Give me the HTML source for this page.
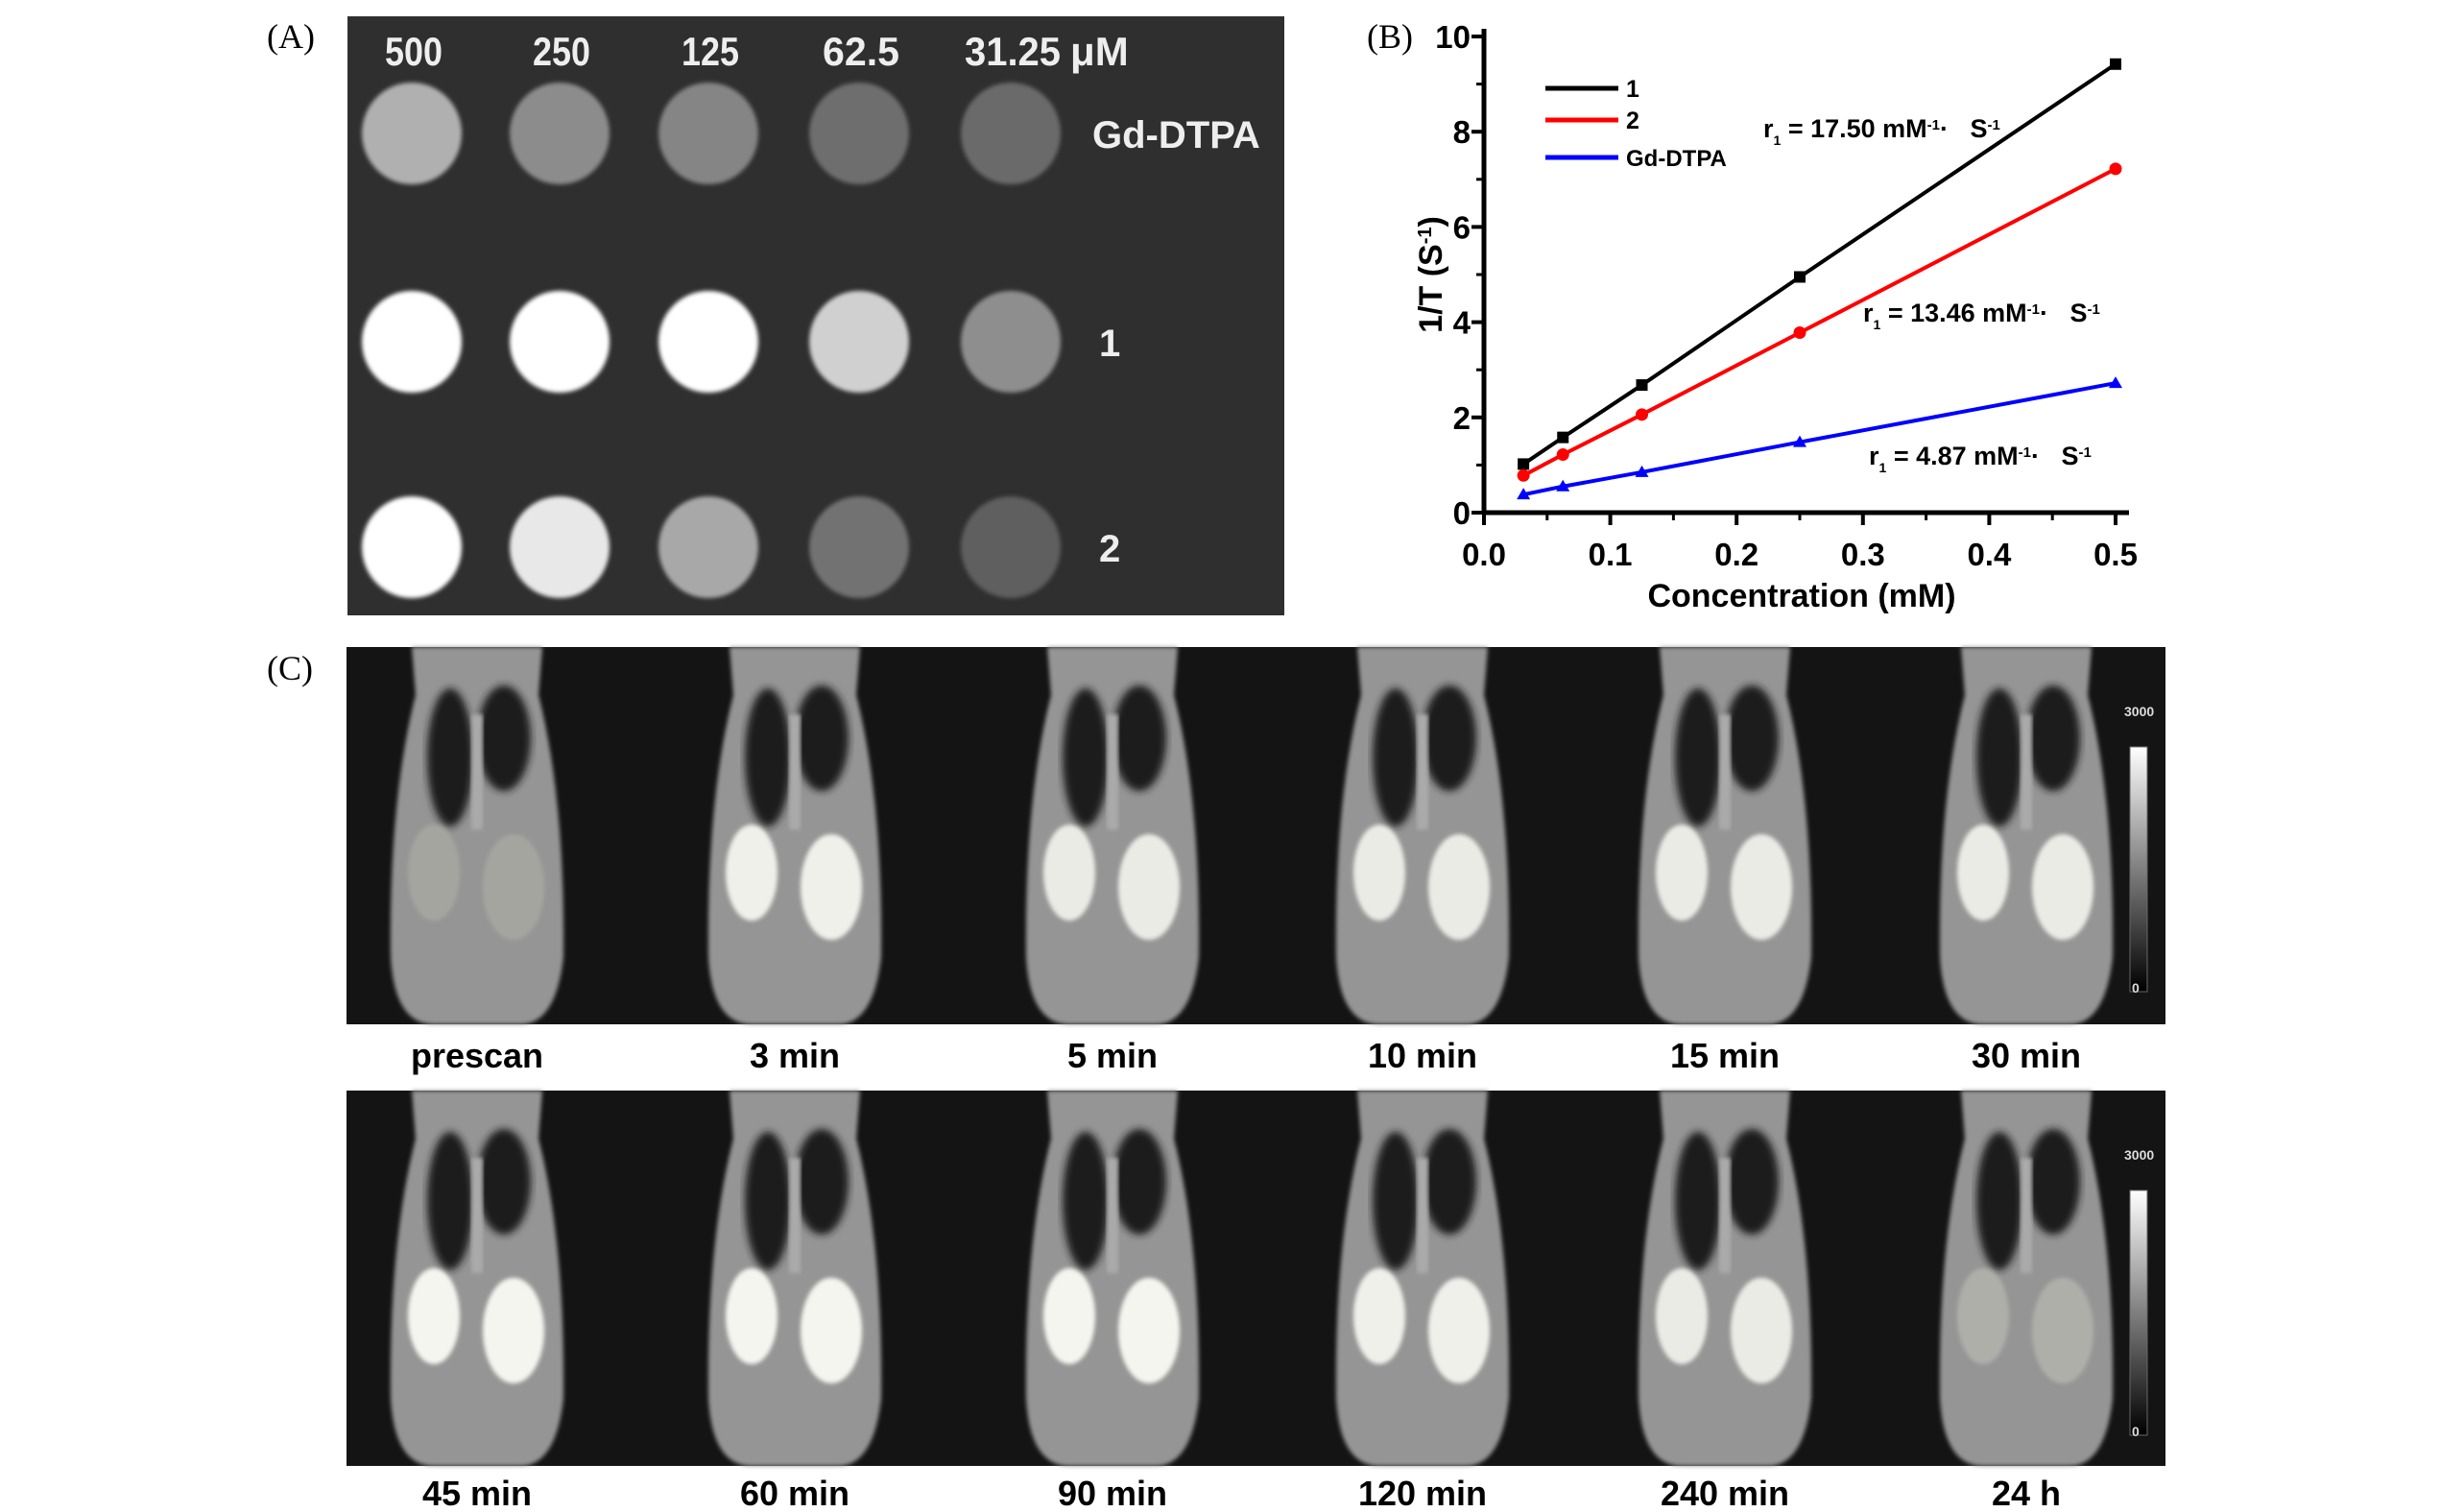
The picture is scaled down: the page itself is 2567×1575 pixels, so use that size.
<!DOCTYPE html>
<html><head><meta charset="utf-8"><style>
html,body{margin:0;padding:0;background:#fff}
body{width:2567px;height:1575px;position:relative;overflow:hidden;font-family:"Liberation Sans",sans-serif}
svg{position:absolute;left:0;top:0}
</style></head><body>
<svg width="2567" height="1575" viewBox="0 0 2567 1575" xmlns="http://www.w3.org/2000/svg">
<defs>
<filter id="blur2"><feGaussianBlur stdDeviation="2"/></filter>
<filter id="blur4"><feGaussianBlur stdDeviation="4"/></filter>
</defs>
<g font-family="Liberation Serif, serif" font-size="36" fill="#000">
<text x="278" y="50">(A)</text>
<text x="1424" y="50">(B)</text>
<text x="278" y="708">(C)</text>
</g>
<g id="panelA">
<rect x="362" y="17" width="976" height="624" fill="#2f2f2f"/>
</g>
<g id="chartB"></g>
<g id="panelC"></g>
</svg>
<script>
const NS='http://www.w3.org/2000/svg';
function mk(tag,attrs,parent,txt){const e=document.createElementNS(NS,tag);for(const k in attrs)e.setAttribute(k,attrs[k]);if(txt!==undefined)e.textContent=txt;parent.appendChild(e);return e;}

// ---------- Panel A ----------
const concLabels=['500','250','125','62.5','31.25'];
const rowLabels=['Gd-DTPA','1','2'];
const grayRows=[[176,140,133,110,106],[255,255,255,208,142],[255,232,168,114,94]];
const pa=document.getElementById('panelA');
const colX=[429,583,738,895,1053], rowY=[139,356,570];
concLabels.forEach((c,i)=>{const t=mk('text',{x:colX[i]+2,y:68,'text-anchor':'middle','font-size':42,'font-weight':'bold',fill:'#eee',textLength:c.length*20,lengthAdjust:'spacingAndGlyphs'},pa,c);

});
{const t=mk('text',{x:1115,y:68,'font-size':42,'font-weight':'bold',fill:'#eee'},pa,'μM');}
grayRows.forEach((row,r)=>{row.forEach((g,i)=>{const c=mk('ellipse',{cx:colX[i],cy:rowY[r],rx:52,ry:53,fill:`rgb(${g},${g},${g})`,filter:'url(#blur2)'},pa);

});
const t=mk('text',{x:r===0?1138:1145,y:rowY[r]+15,'font-size':40,'font-weight':'bold',fill:'#eee'},pa,rowLabels[r]);

});

// ---------- Panel B ----------
const xValues=[0.03125,0.0625,0.125,0.25,0.5];
const series1=[1.02,1.58,2.68,4.95,9.42];
const series2=[0.78,1.22,2.06,3.78,7.22];
const seriesGd=[0.38,0.55,0.85,1.48,2.72];
const xTicks=['0.0','0.1','0.2','0.3','0.4','0.5'];
const yTicks=['0','2','4','6','8','10'];
const legendNames=['1','2','Gd-DTPA'];
const X0=1546,X1=2204,Y0=534,Y1=38;
const sx=v=>X0+(X1-X0)*v/0.5, sy=v=>Y0-(Y0-Y1)*v/10;
const cb=document.getElementById('chartB');
{const a=mk('line',{x1:X0,y1:Y1-8,x2:X0,y2:Y0,stroke:'#000','stroke-width':5},cb);
const b=mk('line',{x1:X0-2,y1:Y0,x2:2218,y2:Y0,stroke:'#000','stroke-width':5},cb);}
xTicks.forEach(t=>{const v=parseFloat(t);const x=sx(v);
mk('line',{x1:x,y1:Y0,x2:x,y2:Y0+13,stroke:'#000','stroke-width':4},cb);
if(v<0.5)mk('line',{x1:sx(v+0.05),y1:Y0,x2:sx(v+0.05),y2:Y0+8,stroke:'#000','stroke-width':3},cb);
const e=mk('text',{x:x,y:Y0+55,'text-anchor':'middle','font-size':33,'font-weight':'bold'},cb,t);

});
yTicks.forEach(t=>{const v=parseFloat(t);const y=sy(v);
mk('line',{x1:X0-13,y1:y,x2:X0,y2:y,stroke:'#000','stroke-width':4},cb);
if(v<10)mk('line',{x1:X0-8,y1:sy(v+1),x2:X0,y2:sy(v+1),stroke:'#000','stroke-width':3},cb);
const e=mk('text',{x:X0-14,y:y+12,'text-anchor':'end','font-size':33,'font-weight':'bold'},cb,t);

});
{const e=mk('text',{x:1877,y:632,'text-anchor':'middle','font-size':34,'font-weight':'bold'},cb,'Concentration (mM)');
const g=mk('text',{transform:'translate(1502,286) rotate(-90)','text-anchor':'middle','font-size':34,'font-weight':'bold'},cb);
g.innerHTML='1/T (S<tspan baseline-shift="super" font-size="20">-1</tspan>)';}
const allSeries=[series1,series2,seriesGd], colors=['#000','#f00','#00f'], markers=['square','circle','triangle'];
allSeries.forEach((s,k)=>{const pts=s.map((v,i)=>sx(xValues[i])+','+sy(v)).join(' ');
const l=mk('polyline',{points:pts,fill:'none',stroke:colors[k],'stroke-width':4},cb);


s.forEach((v,i)=>{const x=sx(xValues[i]),y=sy(v);let m;
if(markers[k]==='square')m=mk('rect',{x:x-6,y:y-6,width:12,height:12,fill:colors[k]},cb);
else if(markers[k]==='circle')m=mk('circle',{cx:x,cy:y,r:6.5,fill:colors[k]},cb);
else m=mk('polygon',{points:`${x},${y-7} ${x-7},${y+5} ${x+7},${y+5}`,fill:colors[k]},cb);

});});
const legY=[92,125,164];
legendNames.forEach((n,k)=>{mk('line',{x1:1610,y1:legY[k],x2:1686,y2:legY[k],stroke:colors[k],'stroke-width':5},cb);
const t=mk('text',{x:1694,y:legY[k]+9,'font-size':k===2?24:25,'font-weight':'bold'},cb,n);

});
const annText=['17.50','13.46','4.87'];
const annPos=[[1837,143],[1941,335],[1947,484]];
annText.forEach((a,k)=>{const t=mk('text',{x:annPos[k][0],y:annPos[k][1],'font-size':27,'font-weight':'bold'},cb);


t.innerHTML=`r<tspan baseline-shift="sub" font-size="14">1</tspan> = ${a} mM<tspan baseline-shift="super" font-size="15">-1</tspan>·&#160;&#160; S<tspan baseline-shift="super" font-size="15">-1</tspan>`;});

// ---------- Panel C ----------
const timeLabelsTop=['prescan','3 min','5 min','10 min','15 min','30 min'];
const timeLabelsBottom=['45 min','60 min','90 min','120 min','240 min','24 h'];
const kidneyTop=[165,240,235,235,235,235];
const kidneyBottom=[245,245,245,240,235,175];
const pc=document.getElementById('panelC');
const cx=[497,828,1159,1482,1797,2111];
function strip(y0,h,labels,kid,ly){
 const r=mk('rect',{x:361,y:y0,width:1895,height:h,fill:'#141414'},pc);
 
 labels.forEach((lab,i)=>{const g=mk('g',{},pc);
  const c=cx[i],k=kid[i];
  mk('path',{d:`M${c-68},${y0} L${c+68},${y0} L${c+64},${y0+50} Q${c+92},${y0+160} ${c+90},${y0+h-70} Q${c+82},${y0+h} ${c+45},${y0+h} L${c-45},${y0+h} Q${c-86},${y0+h} ${c-90},${y0+h-70} Q${c-92},${y0+160} ${c-64},${y0+50} Z`,fill:'#959595',filter:'url(#blur2)'},g);
  mk('ellipse',{cx:c-28,cy:y0+115,rx:24,ry:72,fill:'#1c1c1c',filter:'url(#blur4)'},g);
  mk('ellipse',{cx:c+28,cy:y0+95,rx:28,ry:55,fill:'#1c1c1c',filter:'url(#blur4)'},g);
  mk('rect',{x:c-6,y:y0+70,width:12,height:120,fill:'#aaa',filter:'url(#blur2)'},g);
  mk('ellipse',{cx:c-45,cy:y0+235,rx:27,ry:50,fill:`rgb(${k},${k},${k-5})`,filter:'url(#blur2)'},g);
  mk('ellipse',{cx:c+38,cy:y0+250,rx:32,ry:55,fill:`rgb(${k},${k},${k-5})`,filter:'url(#blur2)'},g);
  const t=mk('text',{x:c,y:ly,'text-anchor':'middle','font-size':36,'font-weight':'bold'},pc,lab);
  });
 const gr=mk('linearGradient',{id:'cg'+y0,x1:0,y1:0,x2:0,y2:1},pc);
 mk('stop',{offset:0,'stop-color':'#fff'},gr);mk('stop',{offset:1,'stop-color':'#000'},gr);
 const bar=mk('rect',{x:2219,y:y0+104,width:18,height:255,fill:`url(#cg${y0})`,stroke:'#666','stroke-width':1},pc);
 
 const t1=mk('text',{x:2213,y:y0+72,'font-size':14,'font-weight':'bold',fill:'#ddd'},pc,'3000');
 const t2=mk('text',{x:2221,y:y0+360,'font-size':14,'font-weight':'bold',fill:'#ddd'},pc,'0');
}
strip(674,393,timeLabelsTop,kidneyTop,1112);
strip(1136,391,timeLabelsBottom,kidneyBottom,1568);
</script>
</body></html>
